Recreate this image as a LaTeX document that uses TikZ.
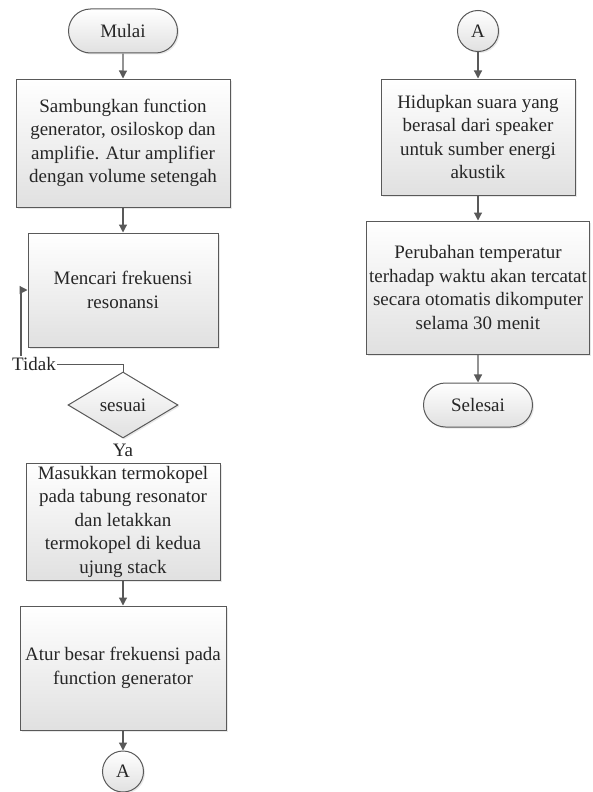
\documentclass[tikz,border=0pt]{standalone}
\usepackage{fontspec}
\setmainfont{Liberation Serif}
\usetikzlibrary{shapes.geometric,shapes.misc,arrows.meta,shadows}

\begin{document}
\begin{tikzpicture}[x=1pt,y=-1pt,
    font=\fontsize{19}{23.5}\selectfont,
    process/.style={draw=black!65, line width=1pt, top color=white, bottom color=black!12,
        text=black!85, align=center, inner sep=2pt,
        drop shadow={opacity=0.18, shadow xshift=1.5pt, shadow yshift=-1.5pt}},
    terminal/.style={process, rounded rectangle, minimum width=113pt, minimum height=44pt},
    decision/.style={process, diamond, minimum width=110pt, minimum height=66pt, inner sep=0pt},
    connector/.style={process, circle, minimum size=41pt, inner sep=0pt},
    flow/.style={draw=black!65, line width=1.2pt, -{Triangle[width=8pt,length=8pt]}},
    line/.style={draw=black!65, line width=1pt},
    label/.style={text=black!85, inner sep=1pt}]

    \useasboundingbox (0,0) rectangle (592,792);

    % Left column
    \node[terminal] (mulai) at (123,31) {Mulai};
    \node[process, minimum width=214pt, minimum height=128pt] (sambung) at (123,143)
        {Sambungkan function\\generator, osiloskop dan\\amplifie. Atur amplifier\\dengan volume setengah};
    \node[process, minimum width=190pt, minimum height=114pt] (cari) at (123,290)
        {Mencari frekuensi\\resonansi};
    \node[decision] (sesuai) at (123,405) {sesuai};
    \node[label] (tidak) at (34,364) {Tidak}; % No branch
    \node[label] (ya) at (123,450) {Ya}; % Yes branch
    \node[process, minimum width=194pt, minimum height=117pt] (masukkan) at (123,521.5)
        {Masukkan termokopel\\pada tabung resonator\\dan letakkan\\termokopel di kedua\\ujung stack};
    \node[process, minimum width=206pt, minimum height=124pt] (atur) at (123,668)
        {Atur besar frekuensi pada\\function generator};
    \node[connector] (konA) at (123,771.5) {A};

    % Right column
    \node[connector] (lanjutA) at (478,31) {A};
    \node[process, minimum width=194pt, minimum height=116pt] (hidupkan) at (478,137)
        {Hidupkan suara yang\\berasal dari speaker\\untuk sumber energi\\akustik};
    \node[process, minimum width=223pt, minimum height=133pt] (perubahan) at (478,287.5)
        {Perubahan temperatur\\terhadap waktu akan tercatat\\secara otomatis dikomputer\\selama 30 menit};
    \node[terminal] (selesai) at (478,405) {Selesai};

    % Draw flow arrows
    \draw[flow] (mulai) -- (sambung);
    \draw[flow] (sambung) -- (cari);
    \draw[flow] (masukkan) -- (atur);
    \draw[flow] (atur) -- (konA);
    \draw[flow] (lanjutA) -- (hidupkan);
    \draw[flow] (hidupkan) -- (perubahan);
    \draw[flow] (perubahan) -- (selesai);

    % Loop back when not resonant
    \draw[line] (sesuai.north) |- (tidak.east);
    \draw[flow] ([xshift=-13pt]tidak.north) |- (cari.west);

\end{tikzpicture}
\end{document}
